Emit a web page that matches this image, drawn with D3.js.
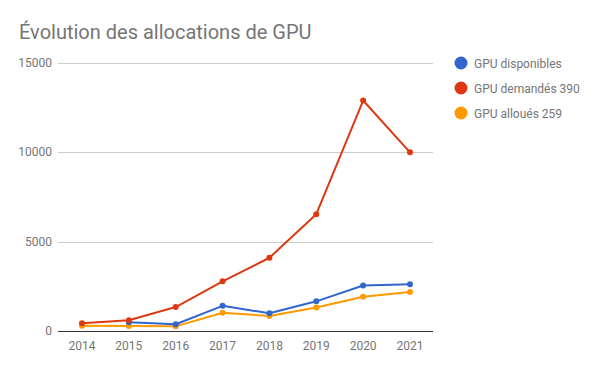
<!DOCTYPE html>
<meta charset="utf-8">
<script src="https://d3js.org/d3.v7.min.js"></script>
<style>
  body { margin: 0; background: #fff; }
  text { font-family: Roboto, "Noto Sans", sans-serif; }
</style>
<div id="my_dataviz"></div>
<script>

// data
var years = ["2014", "2015", "2016", "2017", "2018", "2019", "2020", "2021"];
var gpuDisponibles = [null, 490, 375, 1410, 990, 1660, 2550, 2610];
var gpuDemandes = [430, 600, 1340, 2780, 4100, 6540, 12900, 10000];
var gpuAlloues = [300, 280, 260, 1020, 840, 1320, 1920, 2180];
var seriesNames = ["GPU disponibles", "GPU demandés 390", "GPU alloués 259"];
var seriesColors = ["#3366cc", "#dc3912", "#ff9900"];
var yTicks = [0, 5000, 10000, 15000];

var series = [gpuDisponibles, gpuDemandes, gpuAlloues];

var margin = {top: 63, right: 167, bottom: 40, left: 58},
    width = 600 - margin.left - margin.right,
    height = 371 - margin.top - margin.bottom;

var root = d3.select("#my_dataviz")
  .append("svg")
    .attr("width", 600)
    .attr("height", 371);

root.append("text")
  .attr("x", 19)
  .attr("y", 39)
  .style("font-size", "20px")
  .style("fill", "#757575")
  .text("Évolution des allocations de GPU");

var svg = root.append("g")
  .attr("transform", "translate(" + margin.left + "," + margin.top + ")");

var x = d3.scalePoint()
  .domain(years)
  .range([24, width - 23]);

var y = d3.scaleLinear()
  .domain([0, 15000])
  .range([height, 0]);

// gridlines
svg.append("g")
  .selectAll("line")
  .data(yTicks.slice(1))
  .enter()
  .append("line")
    .attr("x1", 0)
    .attr("x2", width)
    .attr("y1", function(d) { return Math.round(y(d)) + 0.5; })
    .attr("y2", function(d) { return Math.round(y(d)) + 0.5; })
    .attr("stroke", "#cccccc");

// y labels
svg.append("g")
  .selectAll("text")
  .data(yTicks)
  .enter()
  .append("text")
    .attr("x", -6)
    .attr("y", function(d) { return y(d) + 4; })
    .attr("text-anchor", "end")
    .style("font-size", "12px")
    .style("fill", "#757575")
    .text(function(d) { return d; });

// x labels
svg.append("g")
  .selectAll("text")
  .data(years)
  .enter()
  .append("text")
    .attr("x", function(d) { return x(d); })
    .attr("y", height + 19)
    .attr("text-anchor", "middle")
    .style("font-size", "12px")
    .style("fill", "#757575")
    .text(function(d) { return d; });

var line = d3.line()
  .defined(function(d) { return d != null; })
  .x(function(d, i) { return x(years[i]); })
  .y(function(d) { return y(d); });

// draw orange first, then blue, red on top
[2, 0, 1].forEach(function(k) {
  svg.append("path")
    .datum(series[k])
    .attr("fill", "none")
    .attr("stroke", seriesColors[k])
    .attr("stroke-width", 2)
    .attr("stroke-linejoin", "round")
    .attr("d", line);

  svg.append("g")
    .selectAll("circle")
    .data(series[k].map(function(v, i) { return {v: v, i: i}; }).filter(function(d) { return d.v != null; }))
    .enter()
    .append("circle")
      .attr("cx", function(d) { return x(years[d.i]); })
      .attr("cy", function(d) { return y(d.v); })
      .attr("r", 3)
      .style("fill", seriesColors[k]);
});

// baseline
svg.append("line")
  .attr("x1", 0)
  .attr("x2", width)
  .attr("y1", Math.round(y(0)) + 0.5)
  .attr("y2", Math.round(y(0)) + 0.5)
  .attr("stroke", "#333333");

// legend
var legend = root.append("g")
  .selectAll("g")
  .data(seriesNames)
  .enter()
  .append("g")
    .attr("transform", function(d, i) { return "translate(461," + (63 + i * 25) + ")"; });

legend.append("circle")
  .attr("r", 6.5)
  .style("fill", function(d, i) { return seriesColors[i]; });

legend.append("text")
  .attr("x", 13)
  .attr("y", 4.5)
  .style("font-size", "12px")
  .style("fill", "#757575")
  .text(function(d) { return d; });

</script>
